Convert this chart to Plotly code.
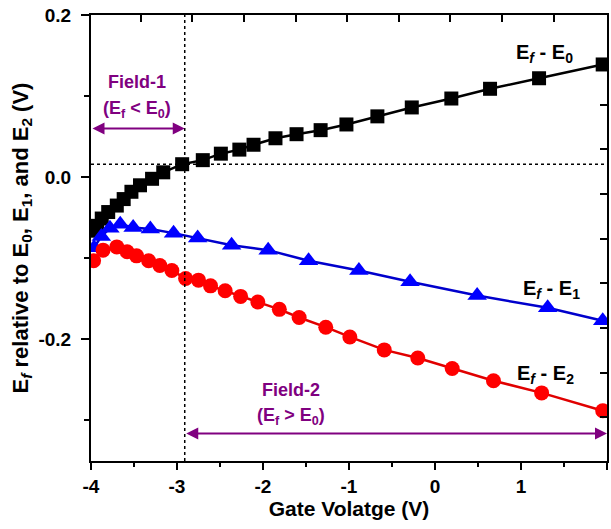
import numpy as np
import plotly.graph_objects as go

# ---------------- data ----------------
x_e0 = [-3.97, -3.93, -3.875, -3.80, -3.70, -3.62, -3.53, -3.43, -3.29, -3.16, -2.94,
        -2.70, -2.49, -2.275, -2.11, -1.855, -1.61, -1.33, -1.03, -0.67, -0.27,
        0.19, 0.64, 1.21, 1.95]
y_e0 = [-0.066, -0.060, -0.051, -0.043, -0.035, -0.027, -0.018, -0.010, -0.002, 0.006, 0.016,
        0.021, 0.029, 0.034, 0.040, 0.048, 0.053, 0.058, 0.065, 0.075, 0.086,
        0.097, 0.109, 0.122, 0.139]

x_e1 = [-3.965, -3.88, -3.78, -3.66, -3.51, -3.31, -3.04, -2.76, -2.365, -1.94,
        -1.47, -0.885, -0.29, 0.49, 1.31, 1.95]
y_e1 = [-0.087, -0.073, -0.063, -0.058, -0.062, -0.064, -0.069, -0.075, -0.084, -0.090,
        -0.103, -0.115, -0.129, -0.146, -0.161, -0.177]

x_e2 = [-3.97, -3.86, -3.70, -3.58, -3.47, -3.33, -3.20, -3.06, -2.90, -2.75, -2.61,
        -2.44, -2.26, -2.06, -1.81, -1.58, -1.27, -0.99, -0.59, -0.20, 0.20, 0.68,
        1.24, 1.95]
y_e2 = [-0.103, -0.090, -0.086, -0.092, -0.097, -0.103, -0.109, -0.115, -0.125, -0.127, -0.134,
        -0.140, -0.147, -0.154, -0.163, -0.173, -0.185, -0.197, -0.213, -0.223, -0.236, -0.251,
        -0.266, -0.288]

x_range = [-4, 2]
y_range = [-0.35, 0.2]
x_ticks = [-4, -3, -2, -1, 0, 1, 2]
y_ticks = [-0.2, 0.0, 0.2]
y_ticktext = ["-0.2", "0.0", "0.2"]

# crossing point (E_f = E_0 boundary)
x_cross = -2.91
y_cross = 0.016

# secondary (frame) tick positions
top_ticks = list(np.round(np.arange(-3.42, 1.5, 0.6), 3))
right_ticks = list(np.round(0.0896 - 0.0551 * np.arange(8), 4))

FONT = "Liberation Sans, Arial, sans-serif"
PURPLE = "#800080"

fig = go.Figure()

fig.add_trace(go.Scatter(x=x_e0, y=y_e0, mode="lines+markers",
                         line=dict(color="black", width=2.5),
                         marker=dict(symbol="square", size=14, color="black"),
                         showlegend=False))
fig.add_trace(go.Scatter(x=x_e1, y=y_e1, mode="lines+markers",
                         line=dict(color="#0000CC", width=2.5),
                         marker=dict(symbol="triangle-up", size=17, color="#0000FF"),
                         showlegend=False))
fig.add_trace(go.Scatter(x=x_e2, y=y_e2, mode="lines+markers",
                         line=dict(color="#E00000", width=2.5),
                         marker=dict(symbol="circle", size=15, color="#FF0000"),
                         showlegend=False))
# dummy trace for frame axes
fig.add_trace(go.Scatter(x=[None], y=[None], xaxis="x2", yaxis="y2",
                         showlegend=False, hoverinfo="skip"))

axis_font = dict(family=FONT, size=19, color="black", weight="bold")
title_font = dict(family=FONT, size=21, color="black", weight="bold")
ytitle_font = dict(family=FONT, size=22, color="black", weight="bold")

fig.update_layout(
    width=611, height=529,
    margin=dict(l=91, r=4, t=15, b=68),
    plot_bgcolor="white", paper_bgcolor="white",
    font=dict(family=FONT, color="black"),
    xaxis=dict(range=x_range, tickmode="array", tickvals=x_ticks,
               ticktext=[str(v) for v in x_ticks],
               ticks="outside", ticklen=7, tickwidth=2, tickcolor="black",
               minor=dict(dtick=0.5, tick0=-4, ticks="outside", ticklen=4,
                          tickwidth=2, tickcolor="black"),
               showline=True, linewidth=2, linecolor="black", mirror=False,
               showgrid=False, zeroline=False, tickfont=axis_font,
               title=dict(text="Gate Volatge (V)", standoff=4, font=title_font)),
    yaxis=dict(range=y_range, tickmode="array", tickvals=y_ticks, ticktext=y_ticktext,
               ticks="outside", ticklen=8, tickwidth=2, tickcolor="black",
               ticklabelstandoff=6,
               minor=dict(tickvals=[-0.3, -0.1, 0.1], ticks="outside", ticklen=5,
                          tickwidth=2, tickcolor="black"),
               showline=True, linewidth=2, linecolor="black", mirror=False,
               showgrid=False, zeroline=False, tickfont=axis_font,
               title=dict(text="E<sub><i>f</i></sub> relative to E<sub>0</sub>, E<sub>1</sub>, and E<sub>2</sub> (V)",
                          standoff=4, font=ytitle_font)),
    xaxis2=dict(range=x_range, overlaying="x", side="top", anchor="y2",
                tickmode="array", tickvals=top_ticks, showticklabels=False,
                ticks="inside", ticklen=7, tickwidth=2, tickcolor="black",
                showline=True, linewidth=2, linecolor="black",
                showgrid=False, zeroline=False),
    yaxis2=dict(range=y_range, overlaying="y", side="right", anchor="x2",
                tickmode="array", tickvals=right_ticks, showticklabels=False,
                ticks="inside", ticklen=7, tickwidth=2, tickcolor="black",
                showline=True, linewidth=2, linecolor="black",
                showgrid=False, zeroline=False),
)

# dotted guide lines through the crossing point
fig.add_shape(type="line", xref="x", yref="paper", x0=x_cross, x1=x_cross, y0=0, y1=1,
              line=dict(color="black", width=1.5, dash="dot"))
fig.add_shape(type="line", xref="paper", yref="y", x0=0, x1=1, y0=y_cross, y1=y_cross,
              line=dict(color="black", width=1.5, dash="dot"))

# field arrows
fig.add_annotation(x=x_cross, y=0.060, ax=x_range[0], ay=0.060, xref="x", yref="y",
                   axref="x", ayref="y", text="", showarrow=True, arrowside="end+start",
                   arrowhead=2, arrowsize=1.2, arrowwidth=2, arrowcolor=PURPLE)
fig.add_annotation(x=x_range[1], y=-0.316, ax=x_cross, ay=-0.316, xref="x", yref="y",
                   axref="x", ayref="y", text="", showarrow=True, arrowside="end+start",
                   arrowhead=2, arrowsize=1.2, arrowwidth=2, arrowcolor=PURPLE)

field_font = dict(family=FONT, size=18, color=PURPLE, weight="bold")
fig.add_annotation(x=-3.46, y=0.117, text="Field-1", showarrow=False, font=field_font)
fig.add_annotation(x=-3.46, y=0.083, text="(E<sub>f</sub> < E<sub>0</sub>)", showarrow=False,
                   font=field_font)
fig.add_annotation(x=-1.68, y=-0.263, text="Field-2", showarrow=False, font=field_font)
fig.add_annotation(x=-1.68, y=-0.295, text="(E<sub>f</sub> > E<sub>0</sub>)", showarrow=False,
                   font=field_font)

label_font = dict(family=FONT, size=20, color="black", weight="bold")
fig.add_annotation(x=1.27, y=0.152, text="E<sub><i>f</i></sub> - E<sub>0</sub>",
                   showarrow=False, font=label_font)
fig.add_annotation(x=1.35, y=-0.138, text="E<sub><i>f</i></sub> - E<sub>1</sub>",
                   showarrow=False, font=label_font)
fig.add_annotation(x=1.29, y=-0.243, text="E<sub><i>f</i></sub> - E<sub>2</sub>",
                   showarrow=False, font=label_font)

fig.write_html("out.html")
